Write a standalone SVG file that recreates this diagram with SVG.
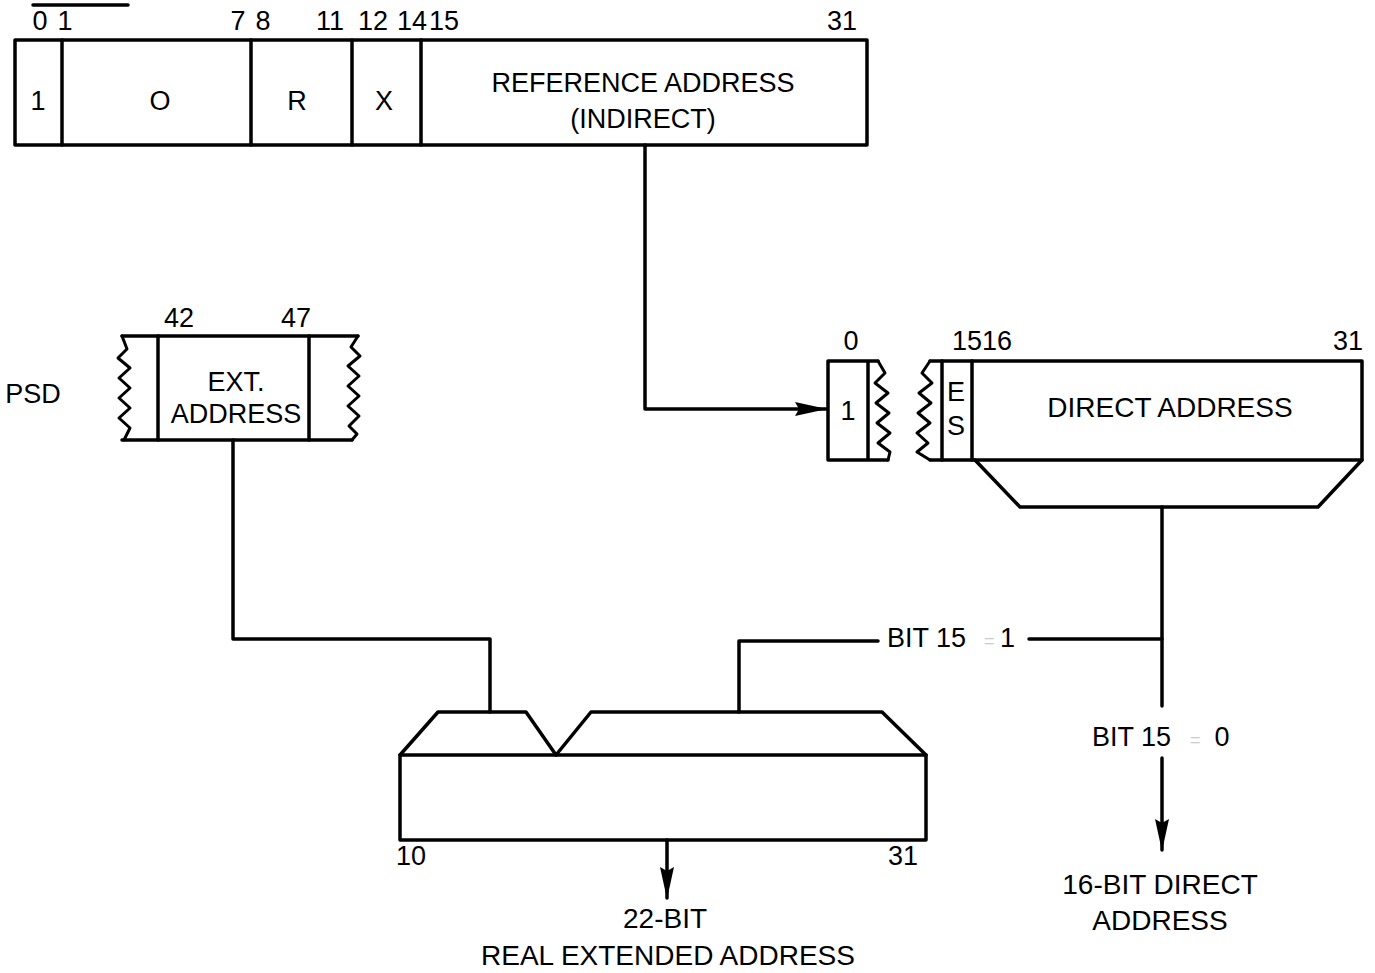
<svg xmlns="http://www.w3.org/2000/svg" width="1375" height="973" viewBox="0 0 1375 973">
<style>
  .ln{fill:none;stroke:#000;stroke-width:3.5;stroke-linejoin:round;stroke-linecap:round}
  .wv{fill:none;stroke:#000;stroke-width:3;stroke-linejoin:round;stroke-linecap:round}
  text{font-family:"Liberation Sans",Arial,sans-serif;font-size:27px;fill:#000}
  .c{text-anchor:middle}
  .big{font-size:28px}
  .faint{fill:#ccc;font-size:18px}
</style>
<defs>
  <marker id="ahd" markerWidth="32" markerHeight="14" refX="31" refY="7" orient="auto" markerUnits="userSpaceOnUse">
    <path d="M0,0 L32,7 L0,14 L4,7 Z" fill="#000"/>
  </marker>
</defs>
<rect width="1375" height="973" fill="#fff"/>
<line x1="33" y1="5" x2="128" y2="5" class="ln"/>

<g id="instruction">
  <rect x="15" y="40" width="852" height="105" class="ln"/>
  <line x1="62" y1="40" x2="62" y2="145" class="ln"/>
  <line x1="251" y1="40" x2="251" y2="145" class="ln"/>
  <line x1="352" y1="40" x2="352" y2="145" class="ln"/>
  <line x1="421" y1="40" x2="421" y2="145" class="ln"/>
  <text x="40" y="30" class="c">0</text>
  <text x="65" y="30" class="c">1</text>
  <text x="238" y="30" class="c">7</text>
  <text x="263" y="30" class="c">8</text>
  <text x="330" y="30" class="c">11</text>
  <text x="373" y="30" class="c">12</text>
  <text x="412" y="30" class="c">14</text>
  <text x="444" y="30" class="c">15</text>
  <text x="842" y="30" class="c">31</text>
  <text x="38" y="110" class="c">1</text>
  <text x="160" y="110" class="c">O</text>
  <text x="297" y="110" class="c">R</text>
  <text x="384" y="110" class="c">X</text>
  <text x="643" y="92" class="c">REFERENCE ADDRESS</text>
  <text x="643" y="128" class="c">(INDIRECT)</text>
</g>

<g id="psd">
  <text x="33" y="403" class="c">PSD</text>
  <path d="M122,336 L309,336 M122,440 L309,440 M309,336 L358,336 M309,440 L352,440" class="ln"/>
  <path d="M122,336 L127,349 L118,358 L130,368 L119,378 L130,388 L119,398 L130,408 L119,418 L130,428 L124,440" class="wv"/>
  <path d="M358,336 L351,347 L360,356 L348,366 L359,376 L348,386 L359,396 L348,406 L359,416 L349,426 L357,434 L352,440" class="wv"/>
  <line x1="158" y1="336" x2="158" y2="440" class="ln"/>
  <line x1="309" y1="336" x2="309" y2="440" class="ln"/>
  <text x="179" y="327" class="c">42</text>
  <text x="296" y="327" class="c">47</text>
  <text x="236" y="391" class="c">EXT.</text>
  <text x="236" y="423" class="c">ADDRESS</text>
</g>

<g id="direct">
  <path d="M868,361 L828,361 L828,460 L868,460 M868,361 L868,460 M868,361 L878,361 M868,460 L888,460" class="ln"/>
  <path d="M878,361 L885,373 L875,383 L888,393 L876,403 L889,413 L877,423 L890,433 L878,443 L890,452 L888,460" class="wv"/>
  <path d="M930,361 L922,373 L932,383 L919,393 L931,403 L918,413 L930,423 L917,433 L928,443 L917,452 L930,460" class="wv"/>
  <path d="M930,361 L1362,361 L1362,460 L930,460" class="ln"/>
  <line x1="942" y1="361" x2="942" y2="460" class="ln"/>
  <line x1="972" y1="361" x2="972" y2="460" class="ln"/>
  <path d="M975,460 L1020,507 L1318,507 L1362,460" class="ln"/>
  <text x="851" y="350" class="c">0</text>
  <text x="982" y="350" class="c">1516</text>
  <text x="1348" y="350" class="c">31</text>
  <text x="848" y="420" class="c">1</text>
  <text x="956" y="401" class="c">E</text>
  <text x="956" y="435" class="c">S</text>
  <text x="1170" y="417" class="c big">DIRECT ADDRESS</text>
</g>

<g id="result">
  <rect x="400" y="755" width="526" height="85" class="ln"/>
  <path d="M400,755 L438,712 L526,712 L556,755" class="ln"/>
  <path d="M556,755 L591,712 L882,712 L926,755" class="ln"/>
  <text x="411" y="865" class="c">10</text>
  <text x="903" y="865" class="c">31</text>
</g>

<g id="connectors">
  <path d="M645,145 L645,409 L826,409" class="ln" marker-end="url(#ahd)"/>
  <path d="M233,440 L233,639 L490,639 L490,712" class="ln"/>
  <path d="M1162,507 L1162,706" class="ln"/>
  <path d="M1162,639 L1029,639" class="ln"/>
  <path d="M878,641 L739,641 L739,712" class="ln"/>
  <path d="M1162,758 L1162,850" class="ln" marker-end="url(#ahd)"/>
  <path d="M667,840 L667,898" class="ln" marker-end="url(#ahd)"/>
  <text x="887" y="647">BIT 15</text>
  <text x="984" y="647" class="faint">=</text>
  <text x="1000" y="647">1</text>
  <text x="1092" y="746">BIT 15</text>
  <text x="1190" y="746" class="faint">=</text>
  <text x="1222" y="746" class="c">0</text>
  <text x="1160" y="894" class="c big">16-BIT DIRECT</text>
  <text x="1160" y="930" class="c big">ADDRESS</text>
  <text x="665" y="928" class="c big">22-BIT</text>
  <text x="668" y="965" class="c big">REAL EXTENDED ADDRESS</text>
</g>
</svg>
